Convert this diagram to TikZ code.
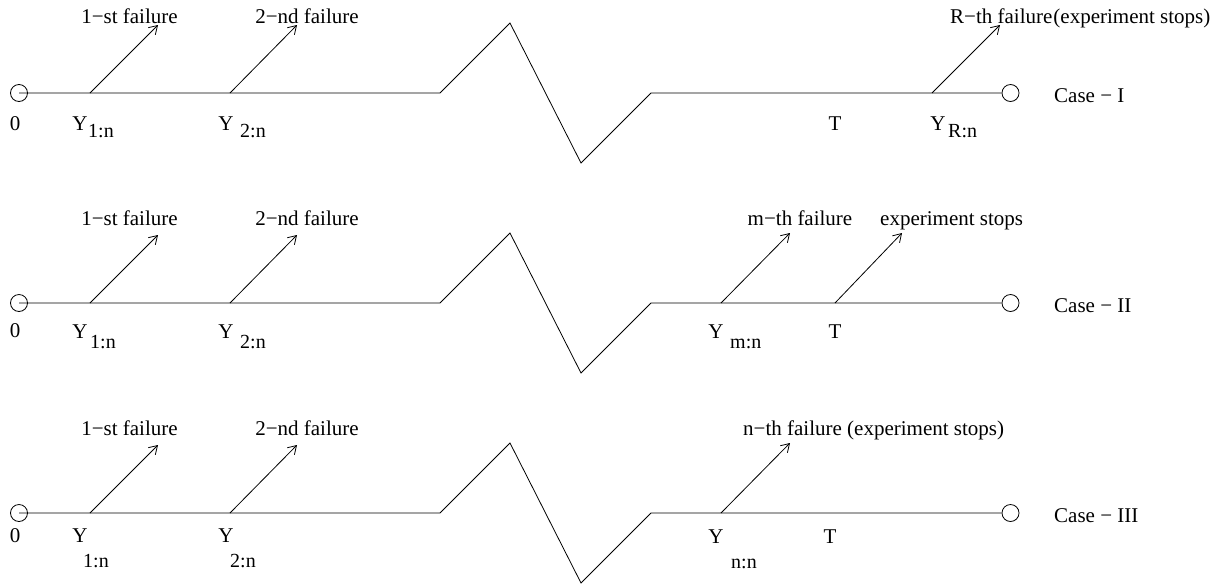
\documentclass[tikz,border=0pt]{standalone}
\usepackage{fontspec}
\setmainfont{Liberation Serif}
\usetikzlibrary{arrows.meta}
\begin{document}
\begin{tikzpicture}[x=1pt,y=-1pt,
  lbl/.style={font=\fontsize{21}{25}\selectfont, inner sep=0pt, anchor=base},
  lblw/.style={lbl, anchor=base west},
  sub/.style={font=\fontsize{20}{24}\selectfont, inner sep=0pt, anchor=base west},
  endpt/.style={circle, draw, line width=0.8pt, minimum size=17pt, inner sep=0pt},
  axis/.style={line width=0.8pt},
  fail/.style={line width=0.8pt, -{Straight Barb[length=8pt,width=10pt]}},
]
\useasboundingbox (0,0) rectangle (1226,587);

% ---------- Case I ----------
\node[endpt] (s1) at (19,93) {};
\node[endpt] (e1) at (1010.5,93) {};
\coordinate (z1a) at (440,93);
\coordinate (z1b) at (510,23);
\coordinate (z1c) at (581,163);
\coordinate (z1d) at (651,93);
\draw[axis] (s1.center) -- (z1a) -- (z1b) -- (z1c) -- (z1d) -- (e1.west);
\coordinate (a1a) at (90,93);   \coordinate (t1a) at (158,25);
\coordinate (a1b) at (230,93);  \coordinate (t1b) at (297,25);
\coordinate (a1c) at (932,93);  \coordinate (t1c) at (1000,25);
\draw[fail] (a1a) -- (t1a);
\draw[fail] (a1b) -- (t1b);
\draw[fail] (a1c) -- (t1c);
\node[lbl] (f1a) at (129.5,23) {1−st failure};
\node[lbl] (f1b) at (307,23) {2−nd failure};
\node[lblw] (f1c) at (950,23) {R−th failure\hspace{1pt}(experiment stops)};
\node[lbl] (o1) at (15,130) {0};
\node[lbl] (y1a) at (80,130) {Y};
\node[sub] (y1as) at (88,137) {1:n};
\node[lbl] (y1b) at (226,130) {Y};
\node[sub] (y1bs) at (240,137) {2:n};
\node[lbl] (T1) at (835,130) {T};
\node[lbl] (y1c) at (938,130) {Y};
\node[sub] (y1cs) at (948,137) {R:n};
\node[lblw] (c1) at (1054,102) {Case − I};

% ---------- Case II ----------
\node[endpt] (s2) at (19,303) {};
\node[endpt] (e2) at (1010.5,303) {};
\coordinate (z2a) at (440,303);
\coordinate (z2b) at (510,233);
\coordinate (z2c) at (581,373);
\coordinate (z2d) at (651,303);
\draw[axis] (s2.center) -- (z2a) -- (z2b) -- (z2c) -- (z2d) -- (e2.west);
\coordinate (a2a) at (90,303);   \coordinate (t2a) at (158,235);
\coordinate (a2b) at (230,303);  \coordinate (t2b) at (297,235);
\coordinate (a2c) at (721,303);  \coordinate (t2c) at (790,233);
\coordinate (a2d) at (835,303);  \coordinate (t2d) at (902,233);
\draw[fail] (a2a) -- (t2a);
\draw[fail] (a2b) -- (t2b);
\draw[fail] (a2c) -- (t2c);
\draw[fail] (a2d) -- (t2d);
\node[lbl] (f2a) at (129.5,225) {1−st failure};
\node[lbl] (f2b) at (307,225) {2−nd failure};
\node[lbl] (f2c) at (800,225) {m−th failure};
\node[lblw] (f2d) at (880,225) {experiment stops};
\node[lbl] (o2) at (15,337) {0};
\node[lbl] (y2a) at (80,338) {Y};
\node[sub] (y2as) at (90,348) {1:n};
\node[lbl] (y2b) at (226,338) {Y};
\node[sub] (y2bs) at (240,348) {2:n};
\node[lbl] (y2c) at (716,338) {Y};
\node[sub] (y2cs) at (730,348) {m:n};
\node[lbl] (T2) at (835,338) {T};
\node[lblw] (c2) at (1054,312) {Case − II};

% ---------- Case III ----------
\node[endpt] (s3) at (19,513) {};
\node[endpt] (e3) at (1010.5,513) {};
\coordinate (z3a) at (440,513);
\coordinate (z3b) at (510,443);
\coordinate (z3c) at (581,583);
\coordinate (z3d) at (651,513);
\draw[axis] (s3.center) -- (z3a) -- (z3b) -- (z3c) -- (z3d) -- (e3.west);
\coordinate (a3a) at (90,513);   \coordinate (t3a) at (158,445);
\coordinate (a3b) at (230,513);  \coordinate (t3b) at (297,445);
\coordinate (a3c) at (721,513);  \coordinate (t3c) at (790,443);
\draw[fail] (a3a) -- (t3a);
\draw[fail] (a3b) -- (t3b);
\draw[fail] (a3c) -- (t3c);
\node[lbl] (f3a) at (129.5,435) {1−st failure};
\node[lbl] (f3b) at (307,435) {2−nd failure};
\node[lblw] (f3c) at (743,435) {n−th failure (experiment stops)};
\node[lbl] (o3) at (15,542) {0};
\node[lbl] (y3a) at (80,542) {Y};
\node[sub] (y3as) at (83,567) {1:n};
\node[lbl] (y3b) at (226,542) {Y};
\node[sub] (y3bs) at (230,567) {2:n};
\node[lbl] (y3c) at (716,543) {Y};
\node[sub] (y3cs) at (731,568) {n:n};
\node[lbl] (T3) at (830,543) {T};
\node[lblw] (c3) at (1054,522) {Case − III};
\end{tikzpicture}
\end{document}
